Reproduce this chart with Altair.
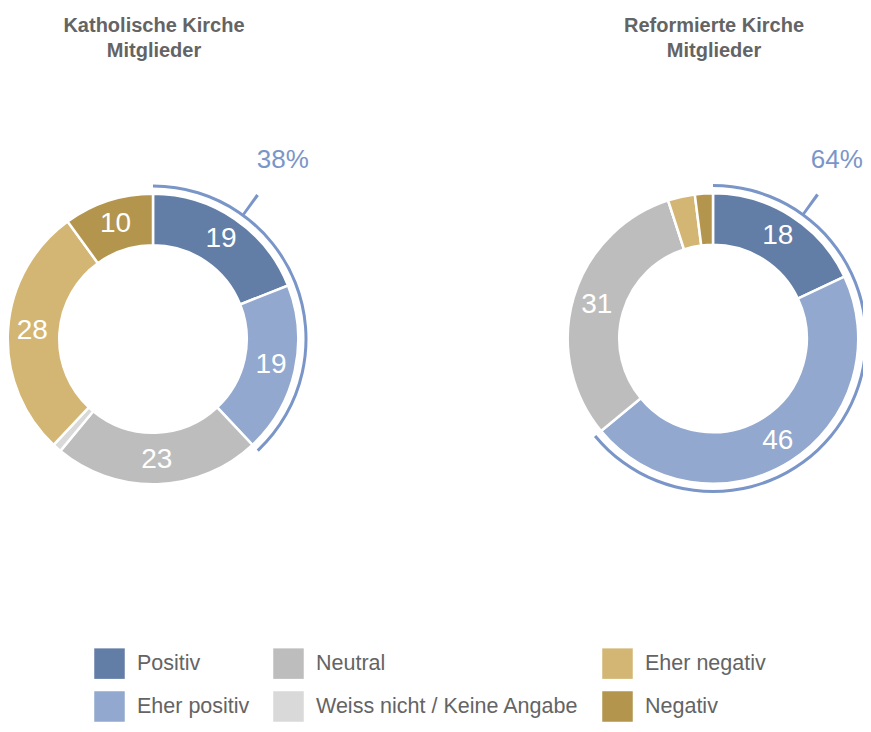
import altair as alt
import pandas as pd

# ---- data ----
categories = ["Positiv", "Eher positiv", "Neutral", "Weiss nicht / Keine Angabe", "Eher negativ", "Negativ"]
colors = ["#627da6", "#92a8ce", "#bdbdbd", "#d9d9d9", "#d3b673", "#b3954d"]
legend_order = ["Positiv", "Neutral", "Eher negativ", "Eher positiv", "Weiss nicht / Keine Angabe", "Negativ"]
churches = ["Katholische Kirche", "Reformierte Kirche"]
subtitle = "Mitglieder"
kath_values = [19, 19, 23, 1, 28, 10]
ref_values = [18, 46, 31, 0, 3, 2]
positive_groups = ["Positiv", "Eher positiv"]

FONT = "Liberation Sans"
HIGHLIGHT = "#7a96c9"
TEXT_GREY = "#646464"

rows = []
share_rows = []
for church, vals in zip(churches, [kath_values, ref_values]):
    for i, (cat, v) in enumerate(zip(categories, vals)):
        rows.append(dict(church=church, category=cat, value=v, idx=i,
                         label=str(v) if v >= 5 else ""))
    share = sum(v for cat, v in zip(categories, vals) if cat in positive_groups)
    share_rows.append(dict(church=church, start=0, share=share, pct=f"{share}%",
                           title=church + "\n" + subtitle))
df = pd.DataFrame(rows)
share_df = pd.DataFrame(share_rows)

color_range = [colors[categories.index(c)] for c in legend_order]
theta_scale = alt.Scale(domain=[0, 100])

color_enc = alt.Color(
    "category:N",
    scale=alt.Scale(domain=legend_order, range=color_range),
    legend=alt.Legend(
        title=None, orient="none", legendX=86, legendY=640, columns=3,
        direction="horizontal",
        symbolType="square", symbolSize=930, symbolStrokeWidth=0, symbolOpacity=1,
        labelFont=FONT, labelFontSize=21.5, labelColor=TEXT_GREY, labelOffset=12,
        columnPadding=23, rowPadding=12, padding=0, labelLimit=400,
    ),
)

centers = {churches[0]: (145, 331), churches[1]: (705, 330.5)}
pct_dx = {churches[0]: 0, churches[1]: -6}

layers = []
for church in churches:
    cx, cy = centers[church]
    d = alt.Chart(df).transform_filter(alt.datum.church == church)
    s = alt.Chart(share_df).transform_filter(alt.datum.church == church)

    arcs = d.mark_arc(outerRadius=145.25, innerRadius=93.75, stroke="white", strokeWidth=2.5).encode(
        theta=alt.Theta("value:Q", stack=True, scale=theta_scale),
        order=alt.Order("idx:Q", sort="ascending"),
        color=color_enc,
        x=alt.value(cx), y=alt.value(cy),
    )
    labels = d.mark_text(radius=121, font=FONT, fontSize=28, color="white",
                         align="center", baseline="middle").encode(
        theta=alt.Theta("value:Q", stack=True, scale=theta_scale),
        order=alt.Order("idx:Q", sort="ascending"),
        text="label:N",
        x=alt.value(cx), y=alt.value(cy),
    )
    highlight = s.mark_arc(outerRadius=154.5, innerRadius=151.5, color=HIGHLIGHT).encode(
        theta=alt.Theta("start:Q", stack=False, scale=theta_scale),
        theta2="share:Q",
        x=alt.value(cx), y=alt.value(cy),
    )
    tick = s.mark_arc(theta=0.619, theta2=0.637, outerRadius=178, innerRadius=153,
                      color=HIGHLIGHT).encode(x=alt.value(cx), y=alt.value(cy))
    pct = s.mark_text(radius=221, theta=0.628, dx=pct_dx[church], font=FONT, fontSize=26,
                      color=HIGHLIGHT, align="center", baseline="middle").encode(
        text="pct:N", x=alt.value(cx), y=alt.value(cy),
    )
    title = s.mark_text(font=FONT, fontSize=20, fontWeight="bold", color=TEXT_GREY,
                        align="center", baseline="alphabetic", lineBreak="\n",
                        lineHeight=25).encode(
        text="title:N", x=alt.value(cx + 1), y=alt.value(24),
    )
    layers += [arcs, labels, highlight, tick, pct, title]

chart = alt.layer(*layers).properties(
    width=855, height=716, padding=0, autosize="none"
).configure_view(strokeWidth=0)

chart.save("out.html", embed_options={"renderer": "svg", "actions": False})
